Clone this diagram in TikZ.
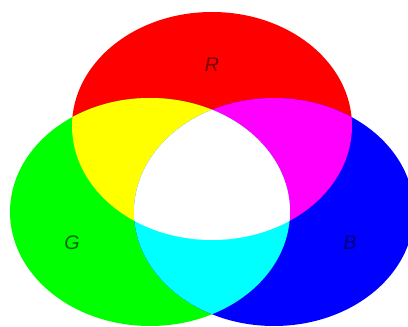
\documentclass[tikz,border=0pt]{standalone}
\usepackage{fontspec}
\setmainfont{Liberation Sans}
\usepackage{tikz}
\usetikzlibrary{positioning}
\usepackage{xcolor}

\definecolor{rgbred}{RGB}{255,0,0}
\definecolor{rgbgreen}{RGB}{0,255,0}
\definecolor{rgbblue}{RGB}{0,0,255}
\definecolor{rgbyellow}{RGB}{255,255,0}
\definecolor{rgbmagenta}{RGB}{255,0,255}
\definecolor{rgbcyan}{RGB}{0,255,255}

\begin{document}
\begin{tikzpicture}[
        x=0.025cm, y=-0.025cm,
        lbl/.style={font=\fontsize{14}{16}\selectfont\itshape, inner sep=0pt}
    ]
    \useasboundingbox (0,0) rectangle (408,327);

    % the three primaries
    \def\redE{(212,126) ellipse [x radius=140, y radius=114]}
    \def\greenE{(150,212) ellipse [x radius=140, y radius=114]}
    \def\blueE{(274,212) ellipse [x radius=140, y radius=114]}

    \fill[rgbred] \redE;
    \fill[rgbgreen] \greenE;
    \fill[rgbblue] \blueE;

    % pairwise mixes
    \begin{scope}
        \clip \redE;
        \fill[rgbyellow] \greenE;
        \fill[rgbmagenta] \blueE;
    \end{scope}
    \begin{scope}
        \clip \greenE;
        \fill[rgbcyan] \blueE;
    \end{scope}

    % all three
    \begin{scope}
        \clip \redE;
        \clip \greenE;
        \fill[white] \blueE;
    \end{scope}

    \node[lbl, text=red!45!black] (r) at (212,65) {R};
    \node[lbl, text=green!40!black] (g) at (72,243) {G};
    \node[lbl, text=blue!45!black] (b) at (350,243) {B};
\end{tikzpicture}
\end{document}
